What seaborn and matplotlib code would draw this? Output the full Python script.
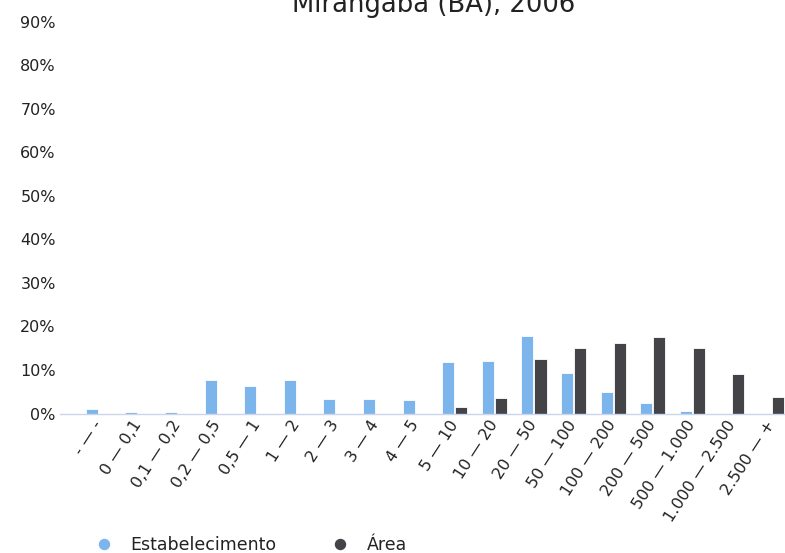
import pandas as pd
import seaborn as sns
import matplotlib.pyplot as plt
from matplotlib.lines import Line2D
from matplotlib.ticker import FuncFormatter

categories = ["- \u2014 -", "0 \u2014 0,1", "0,1 \u2014 0,2", "0,2 \u2014 0,5", "0,5 \u2014 1",
              "1 \u2014 2", "2 \u2014 3", "3 \u2014 4", "4 \u2014 5", "5 \u2014 10",
              "10 \u2014 20", "20 \u2014 50", "50 \u2014 100", "100 \u2014 200",
              "200 \u2014 500", "500 \u2014 1.000", "1.000 \u2014 2.500", "2.500 \u2014 +"]
estabelecimento = [1.0, 0.4, 0.4, 7.7, 6.2, 7.6, 3.3, 3.4, 3.1, 11.8,
                   12.1, 17.9, 9.3, 5.0, 2.3, 0.6, 0.0, 0.0]
area = [0.0, 0.0, 0.0, 0.0, 0.0, 0.0, 0.0, 0.0, 0.0, 1.5,
        3.5, 12.6, 15.0, 16.3, 17.6, 15.1, 9.0, 3.9]
series = ["Estabelecimento", "\u00c1rea"]
colors = ["#7cb5ec", "#434348"]

df = pd.DataFrame({
    "faixa": categories * 2,
    "valor": estabelecimento + area,
    "serie": [series[0]] * len(categories) + [series[1]] * len(categories),
})

sns.set_style("white")
plt.rcParams["font.family"] = ["DejaVu Sans"]

fig = plt.figure(figsize=(7.85, 5.53), dpi=100)
ax = fig.add_axes([60 / 785, 139.5 / 553, 725 / 785, 392 / 553])

sns.barplot(data=df, x="faixa", y="valor", hue="serie", palette=colors, saturation=1,
            width=0.66, gap=0.08, edgecolor="white", linewidth=0.6,
            legend=False, ax=ax)

ax.set_ylim(0, 90)
ax.set_yticks(range(0, 91, 10))
ax.yaxis.set_major_formatter(FuncFormatter(lambda v, p: f"{v:.0f}%"))
ax.set_xlim(-0.97, 17.34)
ax.set_xlabel("")
ax.set_ylabel("")
for s in ["top", "right", "left"]:
    ax.spines[s].set_visible(False)
ax.spines["bottom"].set_color("#ccd6eb")
ax.spines["bottom"].set_linewidth(1.0)
ax.tick_params(axis="y", length=0, pad=3, labelsize=11.5, labelcolor="#222222")
ax.tick_params(axis="x", length=0, pad=6, labelsize=11.5, labelcolor="#222222")
for lab in ax.get_xticklabels():
    lab.set_rotation(57)
    lab.set_ha("right")
    lab.set_va("center")
    lab.set_rotation_mode("anchor")

# title sits partly above the top edge, as in the source image
fig.text(434 / 785, 1 - 12 / 553, "Mirangaba (BA), 2006", ha="center", va="baseline",
         fontsize=18.6, color="#222222")

handles = [Line2D([], [], marker="o", linestyle="", markersize=7.2, color=c) for c in colors]
fig.legend(handles, series, loc="center left", bbox_to_anchor=(95.3 / 785, 1 - 545 / 553),
           ncol=2, frameon=False, fontsize=12.5, handlelength=1.0, handletextpad=1.0,
           columnspacing=3.2, borderpad=0, borderaxespad=0, labelcolor="#222222")

fig.savefig("out.png", dpi=100)
